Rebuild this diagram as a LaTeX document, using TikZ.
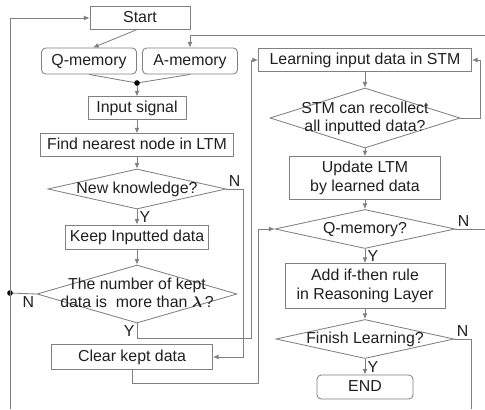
\documentclass[tikz,border=0pt]{standalone}
\usepackage{fontspec}
\setmainfont{Liberation Sans}
\usepackage{amsmath}
\usetikzlibrary{calc}
\usetikzlibrary{positioning}
\usetikzlibrary{shapes.geometric}
\usetikzlibrary{arrows.meta}
\definecolor{linegray}{gray}{0.5}
\definecolor{textgray}{gray}{0.12}
\tikzstyle{boxnode} = [draw=linegray, line width=0.6pt, rectangle, text height=1.5ex, text depth=.25ex, align=center]
\tikzstyle{tallbox} = [draw=linegray, line width=0.6pt, rectangle, align=center]
\tikzstyle{memnode} = [boxnode, rounded corners=3pt]
\tikzstyle{decnode} = [draw=linegray, line width=0.6pt, diamond, inner sep=0pt]
\tikzstyle{dotnode} = [circle, fill=black, inner sep=0pt, minimum size=4pt]
\tikzstyle{flow} = [draw=linegray, line width=0.6pt]
\tikzstyle{arr} = [flow, -{Latex[length=4pt,width=3.5pt]}]
\tikzstyle{yn} = [inner sep=1.5pt]
\newcommand{\dtext}[1]{\smash{\makebox[0pt]{\raisebox{-0.3em}{\begin{tabular}{@{}c@{}}#1\end{tabular}}}}}

\begin{document}
\begin{tikzpicture}[x=0.025cm, y=-0.025cm, font=\fontsize{11.3}{13.2}\selectfont, text=textgray]
    \useasboundingbox (0,0) rectangle (485,409);

    % left column
    \node[boxnode, minimum width=2.5cm, minimum height=0.5cm] (start) at (140,18) {Start};
    \node[memnode, minimum width=2.375cm, minimum height=0.65cm] (qmem) at (89,61) {Q-memory};
    \node[memnode, minimum width=2.375cm, minimum height=0.65cm] (amem) at (190,61) {A-memory};
    \node[dotnode] (join) at (137,83) {};
    \node[boxnode, minimum width=2.45cm, minimum height=0.525cm] (input) at (137,108) {Input signal};
    \node[boxnode, minimum width=4.825cm, minimum height=0.55cm] (find) at (137,145) {Find nearest node in LTM};
    \node[decnode, minimum width=4.45cm, minimum height=1cm] (newk) at (137,189) {\dtext{New knowledge?}};
    \node[boxnode, minimum width=3.475cm, minimum height=0.6cm] (keep) at (137,237) {Keep Inputted data};
    \node[decnode, minimum width=5cm, minimum height=1.45cm] (kept) at (137,294) {\dtext{The number of kept\\data is\ \ more than $\boldsymbol{\lambda}$\,?}};
    \node[boxnode, minimum width=4.025cm, minimum height=0.625cm] (clear) at (132,357) {Clear kept data};

    % right column
    \node[boxnode, minimum width=5.325cm, minimum height=0.525cm] (learn) at (365,60) {Learning input data in STM};
    \node[decnode, minimum width=4.75cm, minimum height=1.5cm] (stm) at (365,118) {\dtext{STM can recollect\\all inputted data?}};
    \node[tallbox, minimum width=3.775cm, minimum height=1cm] (update) at (365,178) {Update LTM\\by learned data};
    \node[decnode, minimum width=4.5cm, minimum height=0.975cm] (qmq) at (365,229) {\dtext{Q-memory?}};
    \node[tallbox, minimum width=4cm, minimum height=1.125cm] (rule) at (365,286) {Add if-then rule\\in Reasoning Layer};
    \node[decnode, minimum width=4.45cm, minimum height=0.975cm] (finish) at (365,339) {\dtext{Finish Learning?}};
    \node[memnode, minimum width=2.4cm, minimum height=0.6cm] (stop) at (365,387) {END};

    % bends and free ends
    \node[dotnode] (ndot) at (10,293) {};
    \coordinate (loopbot) at (10,409);
    \coordinate (rA) at (243,189);
    \coordinate (rB) at (251,338);
    \coordinate (rC) at (258,383);
    \coordinate (rD) at (480,118);
    \coordinate (qout) at (485,229);
    \coordinate (ain) at (485,35);
    \coordinate (fout) at (471,409);

    % left flow
    \draw[arr] ($(start.south)+(-3,0)$) -- ($(qmem.north)+(4,0)$);
    \draw[flow] (qmem.south) -- (join);
    \draw[flow] (amem.south) -- (join);
    \draw[arr] (join) -- (join |- input.north);
    \draw[arr] (input) -- (find);
    \draw[arr] (find) -- (newk);
    \draw[arr] (newk) -- node[yn, right] (yNew) {Y} (keep);
    \draw[arr] (keep) -- (kept);
    \draw[arr] (newk.east) node[yn, above right] (nNew) {N} -| (rA |- clear.east) -- (clear.east);
    \draw[flow] (kept.west) node[yn, below left] (nKept) {N} -- (ndot);
    \draw[arr] (kept.south) node[yn, below left] (yKept) {Y} |- (rB) |- (learn.west);
    \draw[arr] (clear.south) |- (rC) |- (qmq.west);
    \draw[arr] (loopbot) |- (start.west);

    % right flow
    \draw[arr] (learn) -- (stm);
    \draw[arr] (stm) -- (update);
    \draw[arr] (update) -- (qmq);
    \draw[arr] (qmq) -- node[yn, right] (yQm) {Y} (rule);
    \draw[arr] (rule) -- (finish);
    \draw[arr] (finish) -- node[yn, right] (yFin) {Y} (stop);
    \draw[arr] (stm.east) -- (rD) |- (learn.east);
    \draw[flow] (qmq.east) node[yn, above right] (nQm) {N} -- (qout);
    \draw[arr] (ain) -| (amem.north);
    \draw[flow] (finish.east) node[yn, above right] (nFin) {N} -| (fout);
\end{tikzpicture}
\end{document}
